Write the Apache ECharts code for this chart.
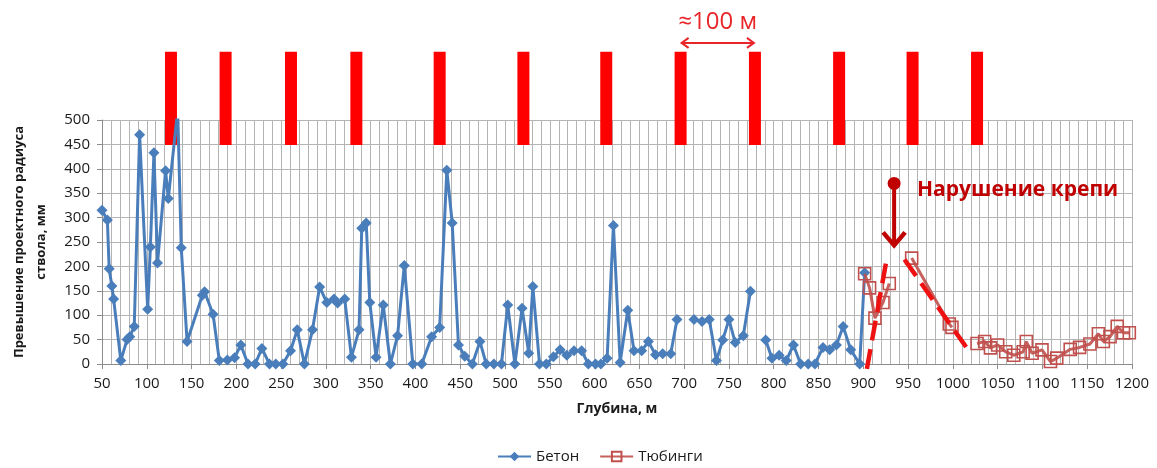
<!DOCTYPE html>
<html>
<head>
<meta charset="utf-8">
<script src="https://cdn.jsdelivr.net/npm/echarts@6/dist/echarts.min.js"></script>
<style>
  html, body { margin: 0; padding: 0; background: #ffffff; }
  #chart { width: 1157px; height: 468px; }
</style>
</head>
<body>
<div id="chart"></div>
<script>
// Depth (m) vs excess over the design shaft radius (mm); null breaks the line.
const concrete = [
  [50, 315], [56, 295], [58, 195], [61, 160], [63, 133], [71, 7], [78, 50], [81, 56],
  [86, 77], [92, 470], [101, 112], [104, 240], [108, 433], [112, 207], [121, 396],
  [124, 339], [134.5, 520], [138.5, 238], [145, 46], [162, 141], [164.5, 148],
  [174, 102], [181, 7], [190, 8], [198, 13], [205, 39], [213, 0], [221, 0],
  [228.5, 32], [237, 0], [244, 0], [252, 0], [260.5, 27], [268, 70], [276, 0],
  [285, 70], [293, 158], [301, 126], [309, 133], [313, 125], [321, 133], [328.5, 14],
  [337, 70], [340, 278], [345, 289], [349, 126], [356, 14], [364, 121], [372, 0],
  [380, 58], [387.5, 202], [397, 0], [407, 0], [418, 56], [427, 75], [435, 397],
  [441, 289], [448, 39], [455, 16], [463.5, 0], [472, 46], [479, 0], [487.5, 0],
  [496, 0], [503, 121], [511, 0], [519, 114], [526.5, 22], [531, 159], [538.5, 0],
  [546, 0], [554, 15], [561.5, 29], [569, 18], [577, 27], [585.5, 27], [593, 0],
  [601, 0], [607, 0], [614, 12], [621, 284], [628.5, 3], [637, 110], [644, 27],
  [652.5, 27], [660, 46], [668, 19], [676, 21], [685, 21], [692, 91], null,
  [711, 91], [720, 87], [728, 91], [736, 7], [743, 49], [750, 91], [757, 44],
  [766, 58], [774, 149], null, [791, 49], [798, 12], [806, 18], [814, 7], [822, 39],
  [830, 0], [838.5, 0], [846, 0], [855, 34], [862.5, 29], [870, 39], [877.5, 77],
  [886, 29], [896, 0], [901.5, 187]
];
const tubing = [
  [901.5, 185], [907, 156], [913, 94], [922, 126], [929, 165], null,
  [954, 217], [996, 82], [999, 75], null,
  [1027, 42], [1035.5, 46], [1042, 33], [1050, 39], [1059, 25], [1068, 18],
  [1078.5, 25], [1082, 46], [1088.5, 22], [1099.5, 29], [1109, 5], [1116, 12],
  [1131, 30], [1141.5, 34], [1153, 41], [1162.5, 62], [1168, 46], [1175.5, 56],
  [1183.5, 77], [1190.5, 64], [1197, 64]
];
// Dashed outline of the lining failure zone
const failureOutline = [[904, -10], [926, 214], null, [946, 214], [1017, 29]];
// Depths of the red marks above the grid (m)
const markDepths = [127, 188, 261, 334, 427, 520.5, 613, 696, 779, 873, 955, 1027];
const markRange = [449, 640];            // mm, extends above the axis maximum
const spanEnds = [696, 779];             // the two marks joined by the arrow
const spanLevel = 658, spanTextLevel = 700;
const spanText = '≈100 м';
const faultPoint = [934.4, 370];
const faultTip = [934.4, 239];
const faultTextAt = [960, 356];
const faultText = 'Нарушение крепи';
const xTitle = 'Глубина, м';
const yTitle = 'Превышение проектного радиуса\nствола, мм';
const seriesNames = ['Бетон', 'Тюбинги'];

const FONT = '"Open Sans", "DejaVu Sans", sans-serif';
const TEXT = '#1a1a1a';
const GRID = '#b4b4b4';
const BLUE = '#4a7ebb';
const RED = '#c0504d';

const chart = echarts.init(document.getElementById('chart'), null, { renderer: 'canvas' });

chart.setOption({
  animation: false,
  backgroundColor: '#ffffff',
  textStyle: { fontFamily: FONT },
  grid: { left: 97, right: 25, top: 120, bottom: 104, containLabel: false },
  legend: {
    data: [
      { name: seriesNames[0] },
      { name: seriesNames[1] }
    ],
    left: 492, top: 444,
    itemWidth: 33, itemHeight: 12, itemGap: 20,
    textStyle: { fontFamily: FONT, fontSize: 15, color: TEXT }
  },
  xAxis: {
    type: 'value', min: 50, max: 1200, interval: 50,
    name: xTitle, nameLocation: 'middle', nameGap: 38,
    nameTextStyle: { fontFamily: FONT, fontSize: 14, fontWeight: 'bold', color: TEXT },
    axisLine: { show: true, onZero: false, lineStyle: { color: '#8c8c8c', width: 1 } },
    axisTick: { show: true, length: 5, lineStyle: { color: '#8c8c8c' } },
    axisLabel: { fontFamily: FONT, fontSize: 15, color: TEXT, margin: 12,
                 formatter: v => String(v) },
    splitLine: { show: true, lineStyle: { color: GRID, width: 1 } },
    minorTick: { show: false, splitNumber: 5 },
    minorSplitLine: { show: true, lineStyle: { color: GRID, width: 1 } }
  },
  yAxis: {
    type: 'value', min: 0, max: 500, interval: 50,
    name: yTitle, nameLocation: 'middle', nameGap: 50, nameRotate: 90,
    nameTextStyle: { fontFamily: FONT, fontSize: 13, fontWeight: 'bold', color: TEXT, lineHeight: 22 },
    axisLine: { show: true, lineStyle: { color: '#8c8c8c', width: 1 } },
    axisTick: { show: true, length: 5, lineStyle: { color: '#8c8c8c' } },
    axisLabel: { fontFamily: FONT, fontSize: 15, color: TEXT, margin: 12 },
    splitLine: { show: true, lineStyle: { color: GRID, width: 1 } }
  },
  series: [
    {
      type: 'custom', name: 'marks', clip: false, silent: true, z: 1,
      data: markDepths.map(d => [d, markRange[0]]),
      encode: { x: 0, y: 1 },
      renderItem: function (params, api) {
        const x = api.value(0);
        const top = api.coord([x, markRange[1]]);
        const bottom = api.coord([x, markRange[0]]);
        const w = 12;
        return {
          type: 'rect',
          shape: { x: top[0] - w / 2, y: top[1], width: w, height: bottom[1] - top[1] },
          style: { fill: '#ff0000' }
        };
      }
    },
    {
      type: 'line', name: seriesNames[0], data: concrete, connectNulls: false,
      symbol: 'diamond', symbolSize: 11, z: 3,
      itemStyle: { color: BLUE },
      lineStyle: { color: BLUE, width: 3 }
    },
    {
      type: 'line', name: seriesNames[1], data: tubing, connectNulls: false,
      symbol: 'rect', symbolSize: 12, z: 4,
      itemStyle: { color: 'rgba(255,255,255,0)', borderColor: RED, borderWidth: 1.6 },
      lineStyle: { color: RED, width: 3, opacity: 0.9 }
    },
    {
      type: 'line', name: 'outline', data: failureOutline, connectNulls: false,
      symbol: 'none', clip: false, silent: true, z: 5,
      lineStyle: { color: '#ee1111', width: 4.5, type: [20, 9] }
    }
  ]
});

// Annotations placed from data coordinates
const px = v => chart.convertToPixel({ gridIndex: 0 }, v);
const a = px([spanEnds[0], spanLevel]);
const b = px([spanEnds[1], spanLevel]);
const st = px([(spanEnds[0] + spanEnds[1]) / 2, spanTextLevel]);
const fp = px(faultPoint);
const ft = px(faultTip);
const fl = px(faultTextAt);
const SPAN_RED = '#e8262a';
const DARK_RED = '#c00000';

chart.setOption({
  graphic: [
    { type: 'line', shape: { x1: a[0] + 1, y1: a[1], x2: b[0] - 1, y2: b[1] },
      style: { stroke: SPAN_RED, lineWidth: 2 } },
    { type: 'polyline', shape: { points: [[a[0] + 8, a[1] - 5], [a[0] + 1, a[1]], [a[0] + 8, a[1] + 5]] },
      style: { stroke: SPAN_RED, lineWidth: 2, fill: null } },
    { type: 'polyline', shape: { points: [[b[0] - 8, b[1] - 5], [b[0] - 1, b[1]], [b[0] - 8, b[1] + 5]] },
      style: { stroke: SPAN_RED, lineWidth: 2, fill: null } },
    { type: 'text', x: st[0], y: st[1],
      style: { text: spanText, fill: SPAN_RED, font: '24px ' + FONT, align: 'center', verticalAlign: 'middle' } },
    { type: 'line', shape: { x1: fp[0], y1: fp[1], x2: ft[0], y2: ft[1] - 2 },
      style: { stroke: DARK_RED, lineWidth: 4 } },
    { type: 'polyline', shape: { points: [[ft[0] - 11, ft[1] - 15], [ft[0], ft[1] - 2], [ft[0] + 11, ft[1] - 15]] },
      style: { stroke: DARK_RED, lineWidth: 4.5, fill: null, lineJoin: 'miter' } },
    { type: 'circle', shape: { cx: fp[0], cy: fp[1], r: 6.5 }, style: { fill: DARK_RED } },
    { type: 'text', x: fl[0], y: fl[1],
      style: { text: faultText, fill: DARK_RED, font: 'bold 21px ' + FONT, align: 'left', verticalAlign: 'middle' } }
  ]
});
</script>
</body>
</html>
